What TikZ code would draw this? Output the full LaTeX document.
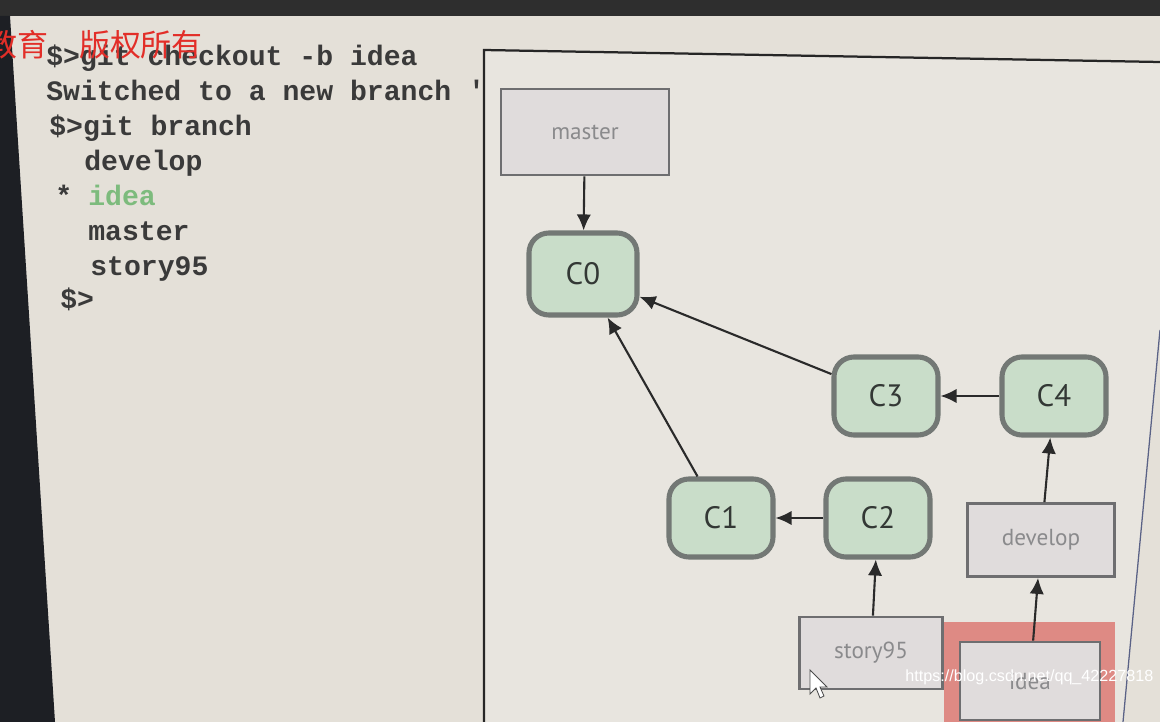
\documentclass[tikz,border=0pt]{standalone}
\usepackage{fontspec}
\setmainfont{PT Sans}
\newfontfamily\termfont{Liberation Mono}
\newfontfamily\cjk{Noto Sans CJK SC}
\newfontfamily\webfont{Liberation Sans}
\usetikzlibrary{arrows.meta}

\definecolor{screenbg}{HTML}{E4E0D8}
\definecolor{panelbg}{HTML}{E8E5DF}
\definecolor{barcol}{HTML}{2E2E2E}
\definecolor{stripcol}{HTML}{1D1F24}
\definecolor{termtext}{HTML}{3A3A3A}
\definecolor{termgreen}{HTML}{7DBB7D}
\definecolor{marked}{HTML}{E22E28}
\definecolor{commitfill}{HTML}{C9DDC9}
\definecolor{commitline}{HTML}{737875}
\definecolor{committext}{HTML}{333835}
\definecolor{boxfill}{HTML}{E0DCDC}
\definecolor{boxline}{HTML}{6E6E70}
\definecolor{boxtext}{HTML}{8A8A8C}
\definecolor{highlight}{HTML}{DE8A84}
\definecolor{arrowcol}{HTML}{2A2A2A}
\definecolor{edgeblue}{HTML}{5A6286}

\tikzset{
	commit/.style={draw=commitline, fill=commitfill, line width=3.6pt, rounded corners=0.5cm, minimum width=2.6cm, minimum height=1.95cm, font=\fontsize{22}{25}\selectfont, text=committext},
	branchbox/.style={draw=boxline, fill=boxfill, line width=2pt, font=\fontsize{16.5}{19}\selectfont, text=boxtext},
	arr/.style={draw=arrowcol, line width=1.5pt, -{Latex[length=0.4cm,width=0.36cm]}},
	term/.style={anchor=base west, inner sep=0pt, font=\termfont\bfseries\fontsize{20}{24}\selectfont, text=termtext},
}

\begin{document}
\begin{tikzpicture}[x=0.025cm, y=-0.025cm]
	\path[use as bounding box] (0, 0) rectangle (1160, 722);
	\clip (0, 0) rectangle (1160, 722);
	% screen
	\fill[screenbg] (0, 0) rectangle (1160, 722);
	\fill[barcol] (0, 0) rectangle (1160, 16);
	\fill[stripcol] (0, 16) -- (10, 16) -- (55, 722) -- (0, 722) -- cycle;
	\fill[panelbg] (484, 50) -- (1160, 62) -- (1160, 330) -- (1123, 722) -- (484, 722) -- cycle;
	\draw[line width=1.6pt, black!85] (484, 722) -- (484, 50) -- (1160, 62);
	\draw[line width=0.9pt, edgeblue] (1160, 330) -- (1123, 722);
	% terminal
	\node[term] (L1) at (46, 66){\$>git checkout -b idea};
	\node[term] (L2) at (46, 101){Switched to a new branch '};
	\node[term] (L3) at (49, 136){\$>git branch};
	\node[term] (L4) at (84, 171){develop};
	\node[term] (L5) at (55, 206){*};
	\node[term, text=termgreen] (L6) at (88, 206){idea};
	\node[term] (L7) at (88, 241){master};
	\node[term] (L8) at (90, 276){story95};
	\node[term] (L9) at (60, 309){\$>};
	% branches and commits
	\fill[highlight] (944, 622) rectangle (1115, 730);
	\node[branchbox, minimum width=4.2cm, minimum height=2.15cm] (master) at (585, 132){master};
	\node[commit, minimum width=2.7cm, minimum height=2.05cm] (C0) at (583, 274){C0};
	\node[commit] (C3) at (886, 396){C3};
	\node[commit] (C4) at (1054, 396){C4};
	\node[commit] (C1) at (721, 518){C1};
	\node[commit] (C2) at (878, 518){C2};
	\node[branchbox, minimum width=3.675cm, minimum height=1.825cm] (develop) at (1041, 540){develop};
	\node[branchbox, minimum width=3.575cm, minimum height=1.8cm] (story95) at (871, 653){story95};
	\node[branchbox, minimum width=3.5cm, minimum height=1.95cm] (idea) at (1030, 681){idea};
	\draw[arr] (master) -- (C0);
	\draw[arr] (C3) -- (C0);
	\draw[arr] (C1) -- (C0);
	\draw[arr] (C4) -- (C3);
	\draw[arr] (C2) -- (C1);
	\draw[arr] (story95) -- (C2);
	\draw[arr] (develop) -- (C4);
	\draw[arr] (idea) -- (develop);
	% watermarks
	\node[anchor=base west, inner sep=0pt, text=marked, font=\cjk\fontsize{22}{25}\selectfont] (mark) at (-14, 57){教育　版权所有};
	\node[anchor=base west, inner sep=0pt, text=white, font=\webfont\fontsize{11.5}{13}\selectfont] (url) at (905, 681){https://blog.csdn.net/qq\_42227818};
	% pointer
	\draw[fill=white, draw=black!70, line width=0.6pt] (810, 670) -- (810, 694) -- (816, 688) -- (820, 698) -- (824, 696) -- (820, 687) -- (827, 687) -- cycle;
\end{tikzpicture}
\end{document}
